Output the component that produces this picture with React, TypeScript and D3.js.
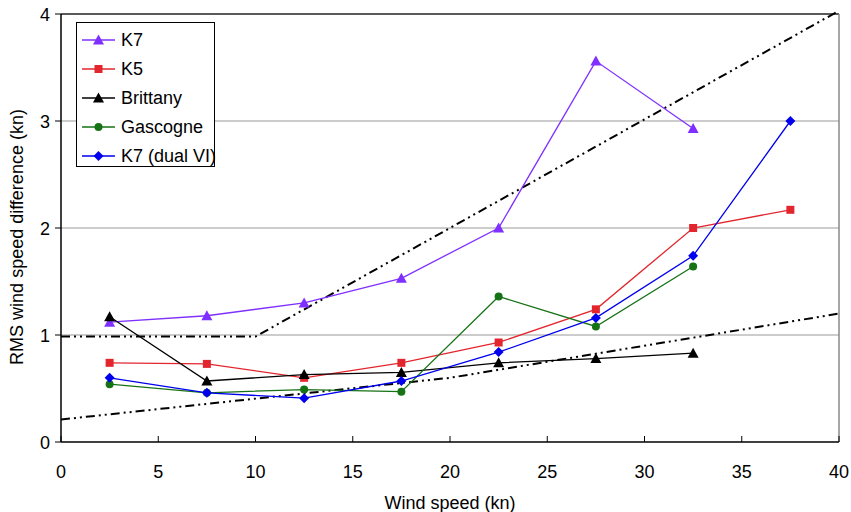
import React from "react";
import * as d3 from "d3";

const windSpeed = [2.5, 7.5, 12.5, 17.5, 22.5, 27.5, 32.5, 37.5];
const k7 = [1.12, 1.18, 1.3, 1.53, 2.0, 3.56, 2.93];
const k5 = [0.74, 0.73, 0.6, 0.74, 0.93, 1.24, 2.0, 2.17];
const brittany = [1.17, 0.57, 0.63, 0.65, 0.74, 0.78, 0.83];
const gascogne = [0.54, 0.46, 0.49, 0.47, 1.36, 1.08, 1.64];
const k7dual = [0.6, 0.46, 0.41, 0.57, 0.84, 1.16, 1.74, 3.0];

const refUpperX = [0, 10, 40];
const refUpperY = [0.985, 0.985, 4.03];
const refLowerX = [0, 20, 40];
const refLowerY = [0.21, 0.6, 1.2];

const xTicks = [0, 5, 10, 15, 20, 25, 30, 35, 40];
const yTicks = [0, 1, 2, 3, 4];
const gridY = [1, 2, 3];

type Series = { name: string; values: number[]; color: string; marker: string };
const series: Series[] = [
  { name: "K7", values: k7, color: "#7f2fff", marker: "triangle" },
  { name: "K5", values: k5, color: "#e3262e", marker: "square" },
  { name: "Brittany", values: brittany, color: "#000000", marker: "triangle" },
  { name: "Gascogne", values: gascogne, color: "#157215", marker: "circle" },
  { name: "K7 (dual VI)", values: k7dual, color: "#0000ee", marker: "diamond" },
];

const W = 851, H = 512;
const left = 61, right = 839, top = 14, bottom = 442;
const font = "'Liberation Sans', Arial, sans-serif";

function Marker({ type, x, y, color }: { type: string; x: number; y: number; color: string }) {
  if (type === "triangle") {
    const p = d3.path();
    p.moveTo(x, y - 5.5); p.lineTo(x + 5.5, y + 4.5); p.lineTo(x - 5.5, y + 4.5); p.closePath();
    return <path d={p.toString()} fill={color} />;
  }
  if (type === "square") return <rect x={x - 4} y={y - 4} width={8} height={8} fill={color} />;
  if (type === "circle") return <circle cx={x} cy={y} r={4} fill={color} />;
  const p = d3.path();
  p.moveTo(x, y - 5); p.lineTo(x + 5, y); p.lineTo(x, y + 5); p.lineTo(x - 5, y); p.closePath();
  return <path d={p.toString()} fill={color} />;
}

export default function App() {
  const x = d3.scaleLinear().domain([0, 40]).range([left, right]);
  const y = d3.scaleLinear().domain([0, 4]).range([bottom, top]);
  const line = d3.line<[number, number]>().x(d => x(d[0])).y(d => y(d[1]));
  const upper = refUpperX.map((v, i) => [v, refUpperY[i]] as [number, number]);
  const lower = refLowerX.map((v, i) => [v, refLowerY[i]] as [number, number]);
  const dash = "9,4,2,4,2,4";
  return (
    <svg width={W} height={H} style={{ position: "absolute", left: 0, top: 0, background: "#fff" }} fontFamily={font}>
      {gridY.map(t => (
        <line key={t} x1={left} x2={right} y1={y(t)} y2={y(t)} stroke="#999" strokeWidth={1.2} />
      ))}
      <line x1={left} x2={right} y1={top} y2={top} stroke="#222" strokeWidth={1.5} />
      <line x1={right} x2={right} y1={top} y2={bottom} stroke="#888" strokeWidth={1.5} />
      <path d={line(upper) || ""} fill="none" stroke="#000" strokeWidth={2} strokeDasharray={dash} />
      <path d={line(lower) || ""} fill="none" stroke="#000" strokeWidth={2} strokeDasharray={dash} />
      {series.map(s => (
        <g key={s.name}>
          <path
            d={line(s.values.map((v, i) => [windSpeed[i], v] as [number, number])) || ""}
            fill="none" stroke={s.color} strokeWidth={1.3}
          />
          {s.values.map((v, i) => (
            <Marker key={i} type={s.marker} x={x(windSpeed[i])} y={y(v)} color={s.color} />
          ))}
        </g>
      ))}
      <line x1={left} x2={left} y1={top} y2={bottom} stroke="#000" strokeWidth={1.5} />
      <line x1={left} x2={right} y1={bottom} y2={bottom} stroke="#000" strokeWidth={1.5} />
      {xTicks.map(t => (
        <g key={t}>
          <line x1={x(t)} x2={x(t)} y1={bottom} y2={bottom - 6} stroke="#000" strokeWidth={1} />
          <text x={x(t)} y={478} textAnchor="middle" fontSize={18}>{t}</text>
        </g>
      ))}
      {yTicks.map(t => (
        <g key={t}>
          <line x1={left - 6} x2={left} y1={y(t)} y2={y(t)} stroke="#000" strokeWidth={1} />
          <text x={50} y={y(t) + 6.5} textAnchor="end" fontSize={18}>{t}</text>
        </g>
      ))}
      <text x={450} y={509} textAnchor="middle" fontSize={18}>Wind speed (kn)</text>
      <text transform={`translate(23,237) rotate(-90)`} textAnchor="middle" fontSize={18}>
        RMS wind speed difference (kn)
      </text>
      <rect x={76.5} y={22.5} width={138} height={144} fill="#fff" stroke="#000" strokeWidth={1} />
      {series.map((s, i) => {
        const ly = 40 + i * 29;
        return (
          <g key={s.name}>
            <line x1={82} x2={115} y1={ly} y2={ly} stroke={s.color} strokeWidth={1.3} />
            <Marker type={s.marker} x={98.5} y={ly} color={s.color} />
            <text x={121} y={ly + 6} fontSize={18}>{s.name}</text>
          </g>
        );
      })}
    </svg>
  );
}
